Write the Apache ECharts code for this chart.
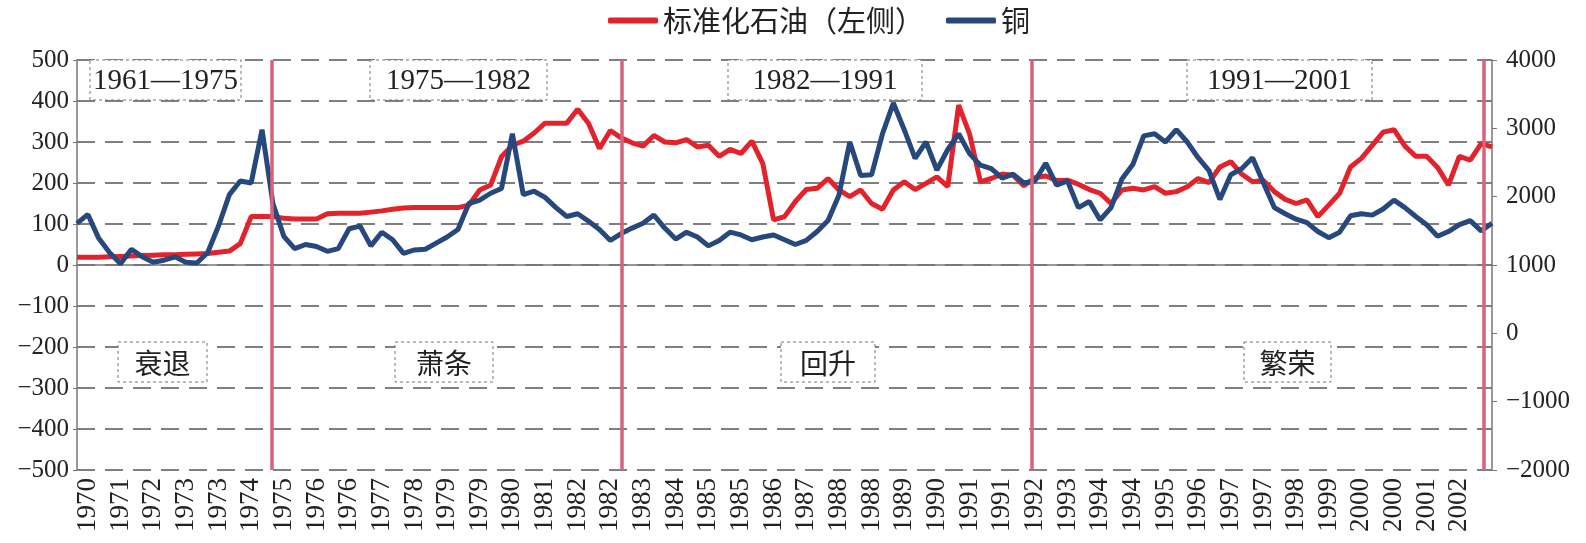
<!DOCTYPE html>
<html>
<head>
<meta charset="utf-8">
<script src="https://cdn.jsdelivr.net/npm/echarts@6/dist/echarts.min.js"></script>
<style>
  html, body { margin: 0; padding: 0; background: #fff; }
  #chart { width: 1586px; height: 543px; }
</style>
</head>
<body>
<div id="chart"></div>
<script>
  // 横轴标签（每隔三个点显示一个）
  var yearLabels = ['1970', '1971', '1972', '1973', '1973', '1974', '1975', '1976', '1976', '1977', '1978',
    '1979', '1979', '1980', '1981', '1982', '1982', '1983', '1984', '1985', '1985', '1986', '1987', '1988',
    '1988', '1989', '1990', '1991', '1991', '1992', '1993', '1994', '1994', '1995', '1996', '1997', '1997',
    '1998', '1999', '2000', '2000', '2001', '2002'];

  // 标准化石油（左轴）
  var oil = [19, 19, 19, 20, 21, 22, 23, 24, 25, 25, 26, 27, 28, 31, 34, 52, 118, 118, 118, 114,
    112, 112, 112, 125, 126, 126, 126, 129, 132, 136, 139, 140, 140, 140, 140, 140, 146, 183, 195, 264,
    292, 302, 322, 346, 346, 346, 380, 345, 284, 328, 310, 298, 290, 316, 300, 298, 306, 288, 292, 265,
    282, 272, 302, 248, 110, 118, 155, 184, 187, 211, 183, 167, 183, 150, 136, 183, 203, 184, 199, 215,
    191, 390, 320, 203, 211, 222, 219, 193, 213, 217, 206, 207, 197, 184, 175, 150, 183, 187, 183, 191,
    175, 179, 191, 211, 201, 239, 252, 222, 203, 206, 179, 160, 150, 159, 118, 146, 175, 239, 260, 292,
    324, 330, 290, 265, 265, 238, 195, 265, 256, 296, 288];

  // 铜（右轴）
  var copper = [1610, 1740, 1390, 1180, 1020, 1230, 1120, 1040, 1070, 1120, 1040, 1030, 1180, 1570, 2030,
    2230, 2200, 2980, 1900, 1420, 1240, 1300, 1270, 1200, 1240, 1530, 1570, 1280, 1480, 1370, 1170, 1220,
    1230, 1320, 1410, 1520, 1900, 1950, 2050, 2120, 2920, 2030, 2080, 1990, 1840, 1710, 1750, 1640, 1520,
    1360, 1460, 1540, 1610, 1730, 1540, 1380, 1480, 1410, 1280, 1360, 1480, 1440, 1370, 1410, 1440, 1370,
    1300, 1360, 1490, 1650, 2020, 2800, 2310, 2320, 2920, 3370, 2980, 2560, 2800, 2390, 2690, 2920, 2630,
    2460, 2410, 2270, 2330, 2200, 2230, 2490, 2170, 2230, 1840, 1930, 1660, 1840, 2260, 2470, 2890, 2920,
    2800, 2980, 2800, 2570, 2380, 1960, 2320, 2410, 2570, 2200, 1840, 1750, 1670, 1620, 1490, 1400, 1480,
    1720, 1750, 1730, 1820, 1950, 1840, 1710, 1590, 1420, 1490, 1590, 1650, 1500, 1610];

  // 周期分界线（按数据点序号）
  var cycleBreaks = [17.85, 50.05, 87.7, 129.2];

  var periodTexts = ['1961—1975', '1975—1982', '1982—1991', '1991—2001'];
  var phaseTexts = ['衰退', '萧条', '回升', '繁荣'];

  var cats = oil.map(function (v, i) {
    return (i - 1) % 3 === 0 ? (yearLabels[(i - 1) / 3] || '') : '';
  });

  var serif = '"Liberation Serif", "Times New Roman", "Noto Sans CJK SC", serif';
  var cjk = '"Noto Sans CJK SC", "Liberation Serif", serif';
  var minus = function (v) { return String(v).replace('-', '\u2212'); };

  var chart = echarts.init(document.getElementById('chart'));

  // 文字框
  var boxes = [
    {t: periodTexts[0], x: 90, y: 60, w: 151, h: 40},
    {t: periodTexts[1], x: 370, y: 60, w: 177, h: 40},
    {t: periodTexts[2], x: 728, y: 60, w: 194, h: 40},
    {t: periodTexts[3], x: 1187, y: 60, w: 185, h: 40},
    {t: phaseTexts[0], x: 118, y: 342, w: 89, h: 40, cjk: true},
    {t: phaseTexts[1], x: 395, y: 342, w: 98, h: 40, cjk: true},
    {t: phaseTexts[2], x: 781, y: 342, w: 94, h: 40, cjk: true},
    {t: phaseTexts[3], x: 1244, y: 342, w: 87, h: 40, cjk: true}
  ];
  var graphics = [];
  boxes.forEach(function (b) {
    graphics.push({
      type: 'rect', silent: true, z: 10,
      shape: {x: b.x, y: b.y, width: b.w, height: b.h},
      style: {fill: '#fff', stroke: '#777', lineWidth: 1, lineDash: [3, 3]}
    });
    graphics.push({
      type: 'text', silent: true, z: 11,
      x: b.x + b.w / 2, y: b.y + b.h / 2 + 1,
      style: {
        text: b.t, fill: '#222', align: 'center', verticalAlign: 'middle',
        font: (b.cjk ? '28px ' + cjk : '29px ' + serif)
      }
    });
  });

  var option = {
    animation: false,
    legend: {
      top: 1,
      left: 603,
      itemWidth: 50,
      itemHeight: 6,
      itemGap: 22,
      icon: 'roundRect',
      textStyle: {fontSize: 29, fontFamily: cjk, color: '#222'},
      data: ['标准化石油（左侧）', '铜']
    },
    grid: {left: 77, right: 94, top: 60, bottom: 73, containLabel: false},
    xAxis: [
      {
        type: 'category',
        data: cats,
        boundaryGap: false,
        axisLine: {lineStyle: {color: '#777', width: 1.5}},
        axisTick: {show: false},
        axisLabel: {
          interval: 0, rotate: 90, fontSize: 27, fontFamily: serif, color: '#222', margin: 8
        },
        splitLine: {show: false}
      },
      {
        type: 'value', min: 0, max: oil.length - 1, show: false
      }
    ],
    yAxis: [
      {
        type: 'value', min: -500, max: 500, interval: 100,
        axisLine: {show: true, lineStyle: {color: '#777', width: 1.5}},
        axisTick: {show: true, length: 4, lineStyle: {color: '#777'}},
        axisLabel: {fontSize: 25, fontFamily: serif, color: '#222', margin: 8, formatter: minus},
        splitLine: {show: true, lineStyle: {color: '#555', width: 1.5, type: [18, 10]}}
      },
      {
        type: 'value', min: -2000, max: 4000, interval: 1000, position: 'right',
        axisLine: {show: true, lineStyle: {color: '#777', width: 1.5}},
        axisTick: {show: true, length: 5, lineStyle: {color: '#777'}},
        axisLabel: {fontSize: 25, fontFamily: serif, color: '#222', margin: 14, formatter: minus},
        splitLine: {show: false}
      }
    ],
    series: [
      {
        name: '标准化石油（左侧）',
        type: 'line',
        data: oil,
        yAxisIndex: 0,
        showSymbol: false,
        symbol: 'none',
        lineStyle: {color: '#e3232b', width: 5},
        itemStyle: {color: '#e3232b'},
        z: 3
      },
      {
        name: '铜',
        type: 'line',
        data: copper,
        yAxisIndex: 1,
        showSymbol: false,
        symbol: 'none',
        lineStyle: {color: '#27487d', width: 5},
        itemStyle: {color: '#27487d'},
        z: 4
      },
      {
        name: 'breaks',
        type: 'line',
        xAxisIndex: 1,
        yAxisIndex: 0,
        data: [],
        silent: true,
        z: 5,
        markLine: {
          silent: true,
          symbol: 'none',
          label: {show: false},
          lineStyle: {color: '#d9617a', width: 3.5, type: 'solid'},
          data: cycleBreaks.map(function (v) { return {xAxis: v}; })
        }
      }
    ],
    graphic: graphics
  };

  chart.setOption(option);
  window.addEventListener('resize', function () {
    chart.resize();
  });
</script>
</body>
</html>
